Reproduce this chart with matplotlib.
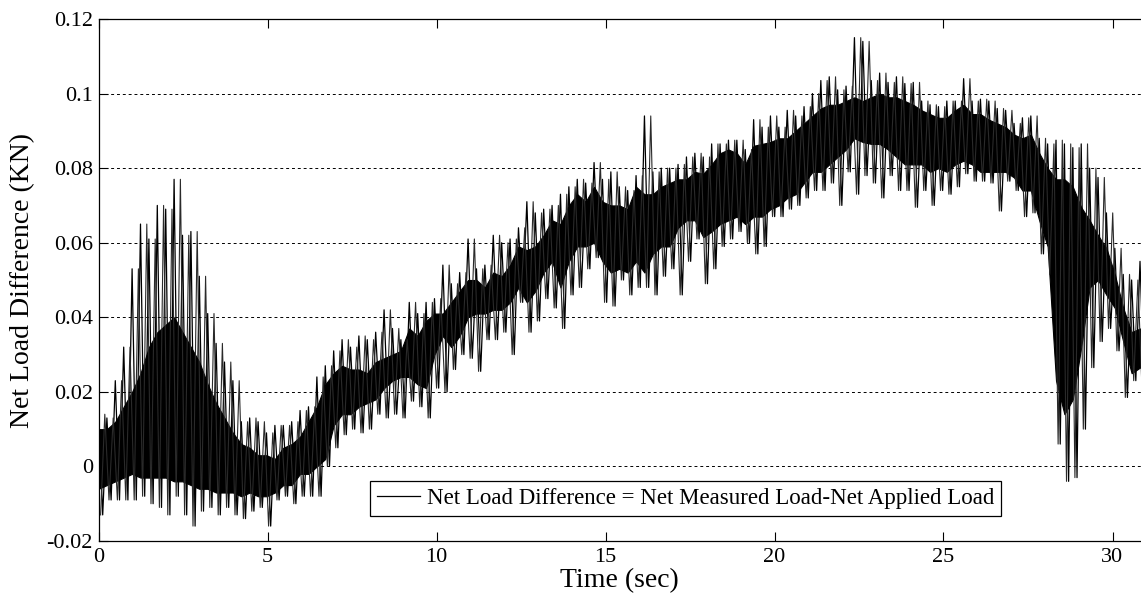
import numpy as np
import matplotlib
matplotlib.use("Agg")
import matplotlib.pyplot as plt
from matplotlib.lines import Line2D

plt.rcParams['font.family'] = ['Liberation Serif', 'DejaVu Serif']

# ---- data (envelopes of the noisy signal) ----
dt = 0.2485  # spacing of the read-off samples (s)

# dense black band of the signal
core_hi = [0.010, 0.010, 0.012, 0.016, 0.020, 0.025, 0.032, 0.036, 0.038, 0.040,
           0.036, 0.032, 0.028, 0.022, 0.017, 0.013, 0.009, 0.006, 0.005, 0.003,
           0.003, 0.002, 0.005, 0.006, 0.008, 0.012, 0.016, 0.022, 0.025, 0.027,
           0.026, 0.026, 0.025, 0.028, 0.029, 0.030, 0.031, 0.037, 0.035, 0.039,
           0.041, 0.041, 0.044, 0.047, 0.050, 0.050, 0.048, 0.052, 0.051, 0.054,
           0.059, 0.058, 0.059, 0.062, 0.066, 0.065, 0.070, 0.073, 0.071, 0.075,
           0.071, 0.070, 0.070, 0.069, 0.075, 0.073, 0.073, 0.075, 0.076, 0.077,
           0.077, 0.079, 0.0785, 0.081, 0.084, 0.085, 0.084, 0.081, 0.086, 0.0865,
           0.087, 0.088, 0.088, 0.090, 0.092, 0.094, 0.096, 0.097, 0.097, 0.098,
           0.099, 0.098, 0.099, 0.100, 0.099, 0.099, 0.098, 0.097, 0.0955, 0.0945,
           0.0935, 0.0935, 0.0955, 0.097, 0.0945, 0.0945, 0.093, 0.092, 0.091, 0.089,
           0.088, 0.089, 0.084, 0.080, 0.077, 0.077, 0.075, 0.0695, 0.066, 0.062,
           0.0585, 0.0515, 0.0425, 0.036, 0.037]
core_lo = [-0.006, -0.005, -0.004, -0.003, -0.002, -0.003, -0.003, -0.003, -0.003, -0.004,
           -0.004, -0.005, -0.006, -0.006, -0.007, -0.007, -0.007, -0.008, -0.007, -0.008,
           -0.008, -0.007, -0.005, -0.005, -0.002, -0.002, 0.000, 0.002, 0.011, 0.014,
           0.014, 0.016, 0.017, 0.018, 0.021, 0.023, 0.024, 0.024, 0.022, 0.021,
           0.030, 0.035, 0.032, 0.035, 0.040, 0.041, 0.041, 0.042, 0.042, 0.044,
           0.048, 0.044, 0.047, 0.052, 0.055, 0.048, 0.055, 0.059, 0.059, 0.060,
           0.055, 0.052, 0.053, 0.052, 0.055, 0.052, 0.057, 0.059, 0.059, 0.064,
           0.066, 0.066, 0.0615, 0.063, 0.065, 0.066, 0.067, 0.065, 0.067, 0.067,
           0.069, 0.070, 0.072, 0.073, 0.076, 0.079, 0.079, 0.081, 0.083, 0.085,
           0.088, 0.087, 0.0865, 0.0865, 0.085, 0.083, 0.081, 0.081, 0.081, 0.079,
           0.080, 0.079, 0.081, 0.082, 0.081, 0.079, 0.079, 0.079, 0.079, 0.0775,
           0.074, 0.074, 0.066, 0.059, 0.023, 0.014, 0.018, 0.032, 0.048, 0.050,
           0.046, 0.0425, 0.0335, 0.025, 0.0265]
# extremes of the spikes
spike_hi = [0.014, 0.013, 0.023, 0.032, 0.053, 0.065, 0.061, 0.070, 0.069, 0.077,
            0.062, 0.063, 0.051, 0.041, 0.033, 0.028, 0.023, 0.012, 0.013, 0.012,
            0.009, 0.011, 0.011, 0.012, 0.015, 0.016, 0.024, 0.027, 0.031, 0.034,
            0.032, 0.035, 0.034, 0.036, 0.042, 0.037, 0.034, 0.044, 0.041, 0.044,
            0.045, 0.054, 0.049, 0.052, 0.061, 0.053, 0.054, 0.062, 0.060, 0.061,
            0.064, 0.071, 0.068, 0.069, 0.070, 0.073, 0.075, 0.077, 0.076, 0.0815,
            0.077, 0.079, 0.075, 0.074, 0.078, 0.094, 0.079, 0.080, 0.080, 0.081,
            0.083, 0.084, 0.083, 0.0865, 0.0865, 0.0875, 0.0875, 0.085, 0.093, 0.091,
            0.094, 0.091, 0.0955, 0.094, 0.0965, 0.100, 0.1035, 0.1045, 0.101, 0.102,
            0.115, 0.114, 0.1035, 0.1055, 0.103, 0.1045, 0.1027, 0.103, 0.098, 0.097,
            0.0965, 0.098, 0.098, 0.104, 0.098, 0.0985, 0.098, 0.096, 0.0955, 0.092,
            0.0935, 0.094, 0.088, 0.0865, 0.0875, 0.0865, 0.0855, 0.0865, 0.080, 0.0775,
            0.068, 0.0585, 0.0515, 0.050, 0.055]
spike_lo = [-0.013, -0.009, -0.009, -0.009, -0.009, -0.008, -0.010, -0.011, -0.013, -0.008,
            -0.013, -0.016, -0.012, -0.011, -0.013, -0.011, -0.013, -0.014, -0.012, -0.011,
            -0.016, -0.009, -0.008, -0.010, -0.008, -0.008, -0.008, 0.000, 0.005, 0.0085,
            0.010, 0.009, 0.010, 0.014, 0.013, 0.014, 0.013, 0.0175, 0.016, 0.013,
            0.021, 0.020, 0.026, 0.030, 0.029, 0.0255, 0.034, 0.034, 0.036, 0.030,
            0.044, 0.036, 0.039, 0.045, 0.0425, 0.037, 0.046, 0.048, 0.053, 0.056,
            0.044, 0.043, 0.050, 0.046, 0.048, 0.048, 0.046, 0.051, 0.053, 0.046,
            0.055, 0.061, 0.049, 0.053, 0.059, 0.061, 0.063, 0.060, 0.057, 0.059,
            0.067, 0.067, 0.069, 0.070, 0.072, 0.074, 0.074, 0.076, 0.070, 0.079,
            0.073, 0.078, 0.076, 0.072, 0.078, 0.074, 0.074, 0.0695, 0.074, 0.070,
            0.074, 0.073, 0.075, 0.0785, 0.0765, 0.0765, 0.076, 0.0685, 0.0765, 0.074,
            0.067, 0.068, 0.057, 0.0515, 0.006, -0.004, -0.003, 0.010, 0.0265, 0.0335,
            0.037, 0.031, 0.0185, 0.023, 0.020]

xticks = [0, 5, 10, 15, 20, 25, 30]
xtick_labels = ['0', '5', '10', '15', '20', '25', '30']
yticks = [-0.02, 0, 0.02, 0.04, 0.06, 0.08, 0.1, 0.12]
ytick_labels = ['-0.02', '0', '0.02', '0.04', '0.06', '0.08', '0.1', '0.12']
legend_label = 'Net Load Difference = Net Measured Load-Net Applied Load'

# ---- figure ----
W, H = 1141, 597
fig = plt.figure(figsize=(W / 100, H / 100), dpi=100)
ax = fig.add_axes([98.5 / W, 1 - 541 / H, (W - 98.5) / W, 522 / H])

t = np.arange(len(core_hi)) * dt


def zigzag(first, second, offset):
    """Alternate the two read-off series at half-sample spacing."""
    xs = np.empty(2 * len(t))
    ys = np.empty(2 * len(t))
    xs[0::2] = t + offset
    xs[1::2] = t + offset + dt / 2
    ys[0::2] = first
    ys[1::2] = second
    return xs, ys


# dense core band
ax.fill_between(t, core_lo, core_hi, facecolor='black', edgecolor='black',
                lw=0.8, zorder=3)
# spikes: two interleaved sets of strokes between the spike extremes
s1x, s1y = zigzag(spike_hi, spike_lo, 0.0)
s2x, s2y = zigzag(spike_lo, spike_hi, dt / 4)
ax.plot(s1x, s1y, color='black', lw=0.9, zorder=3)
ax.plot(s2x, s2y, color='#2a2a2a', lw=0.8, zorder=3)

ax.set_xlim(0, (W - 98.5) / 33.8)
ax.set_ylim(-0.02, 0.12)
ax.set_xticks(xticks)
ax.set_xticklabels(xtick_labels)
ax.set_yticks(yticks)
ax.set_yticklabels(ytick_labels)

ax.set_axisbelow(True)
ax.yaxis.grid(True, color='black', linestyle=(0, (3, 3)), lw=0.7)
ax.xaxis.grid(False)

for s in ['left', 'top', 'bottom']:
    ax.spines[s].set_color('black')
    ax.spines[s].set_linewidth(0.9)
ax.spines['right'].set_visible(False)

ax.tick_params(axis='x', direction='in', length=6.5, width=0.8, top=True,
               labelsize=16, pad=5)
ax.tick_params(axis='y', direction='in', length=6.5, width=0.8, right=False,
               labelsize=16, pad=4)

ax.set_xlabel('Time (sec)', fontsize=20, labelpad=1)
ax.set_ylabel('Net Load Difference (KN)', fontsize=20, labelpad=8)

handle = Line2D([], [], color='black', lw=0.9)
leg = ax.legend([handle], [legend_label], loc='center',
                bbox_to_anchor=(0.563, 0.082), fontsize=16.5, frameon=True,
                fancybox=False, shadow=False, handlelength=1.9,
                handletextpad=0.3, borderpad=0.3, borderaxespad=0)
leg.get_frame().set_edgecolor('black')
leg.get_frame().set_linewidth(0.9)
leg.get_frame().set_facecolor('white')
leg.get_frame().set_alpha(1)
leg.set_zorder(5)

fig.savefig('out.png', dpi=100)
